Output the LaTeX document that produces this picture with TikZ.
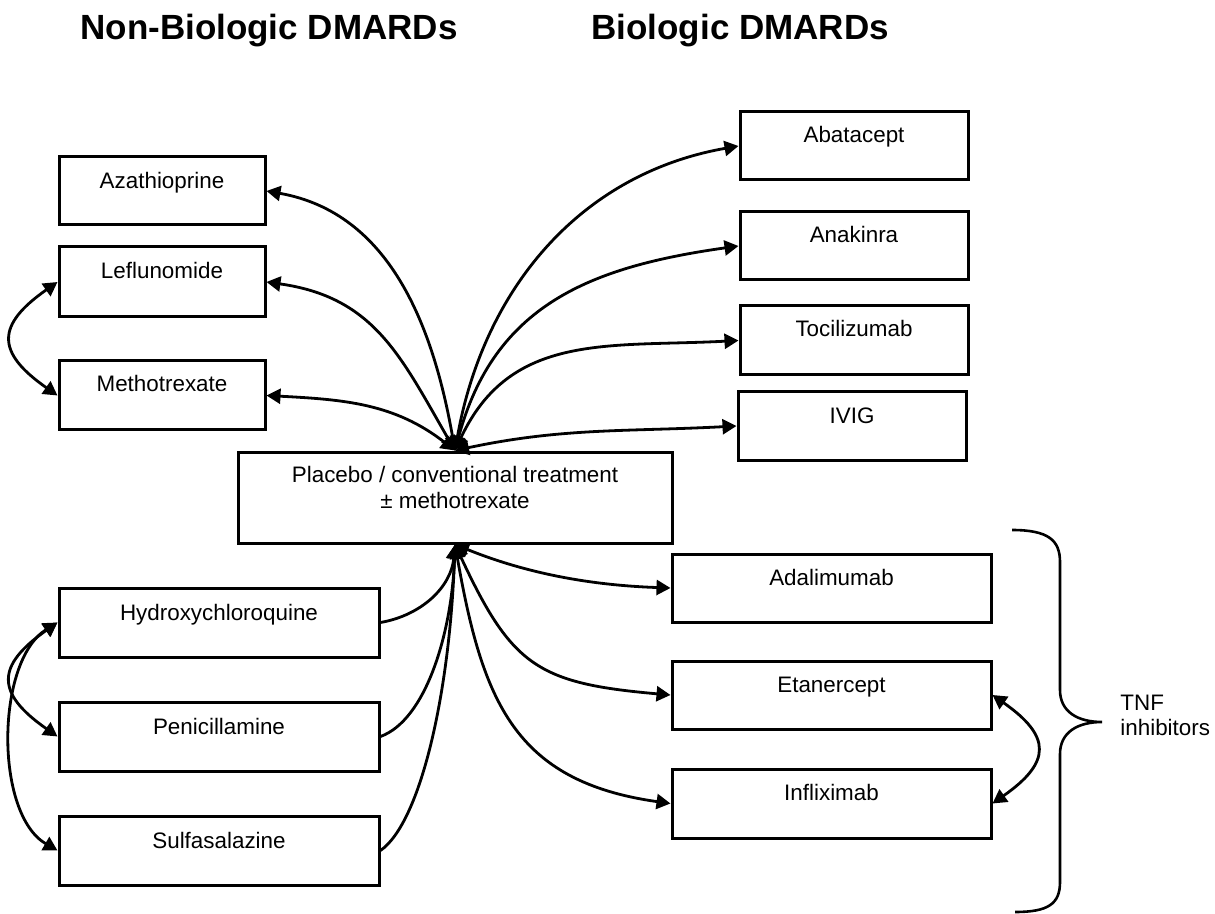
\documentclass[tikz,border=0pt]{standalone}
\usepackage{fontspec}
\setmainfont{Liberation Sans}
\usetikzlibrary{arrows.meta}
\begin{document}
\begin{tikzpicture}[x=0.5pt,y=0.5pt,
  >={Triangle[length=7pt,width=7.5pt]},
  box/.style={draw, line width=1.5pt, inner sep=0pt},
  lbl/.style={anchor=base, inner sep=0pt, font=\fontsize{11.2}{13.5}\selectfont},
  side/.style={anchor=base west, inner sep=0pt, font=\fontsize{11.2}{13.5}\selectfont},
  ttl/.style={anchor=base west, inner sep=0pt, font=\fontsize{17.5}{21}\selectfont\bfseries},
  link/.style={line width=1.4pt}]
\useasboundingbox (0,0) rectangle (1215,-914);

% titles
\node[ttl] (h1) at (80,-40) {Non-Biologic DMARDs};
\node[ttl] (h2) at (591,-40) {Biologic DMARDs};

% left top boxes
\node[box, minimum width=103pt, minimum height=34pt] (aza) at (162,-191) {};
\node[lbl] (aza-t) at ([yshift=-16.75pt]aza.north) {Azathioprine};
\node[box, minimum width=103pt, minimum height=35pt] (lef) at (162,-282) {};
\node[lbl] (lef-t) at ([yshift=-16.75pt]lef.north) {Leflunomide};
\node[box, minimum width=103pt, minimum height=34.5pt] (meth) at (162,-395.5) {};
\node[lbl] (meth-t) at ([yshift=-16.25pt]meth.north) {Methotrexate};

% centre
\node[box, minimum width=217pt, minimum height=45.5pt] (plac) at (455,-497.5) {};
\node[lbl] (plac-t1) at ([yshift=-15.75pt]plac.north) {Placebo / conventional treatment};
\node[lbl] (plac-t2) at ([yshift=-29.25pt]plac.north) {± methotrexate};

% left bottom boxes
\node[box, minimum width=160pt, minimum height=34.5pt] (hyd) at (219,-622.5) {};
\node[lbl] (hyd-t) at ([yshift=-16.75pt]hyd.north) {Hydroxychloroquine};
\node[box, minimum width=160pt, minimum height=34.5pt] (pen) at (219,-736.5) {};
\node[lbl] (pen-t) at ([yshift=-16.75pt]pen.north) {Penicillamine};
\node[box, minimum width=160pt, minimum height=34.5pt] (sul) at (219,-850.5) {};
\node[lbl] (sul-t) at ([yshift=-16.75pt]sul.north) {Sulfasalazine};

% right top boxes
\node[box, minimum width=114pt, minimum height=34pt] (aba) at (854,-146) {};
\node[lbl] (aba-t) at ([yshift=-16.25pt]aba.north) {Abatacept};
\node[box, minimum width=114pt, minimum height=34pt] (ana) at (854,-246) {};
\node[lbl] (ana-t) at ([yshift=-16.25pt]ana.north) {Anakinra};
\node[box, minimum width=114pt, minimum height=34.5pt] (toc) at (854,-340.5) {};
\node[lbl] (toc-t) at ([yshift=-16.25pt]toc.north) {Tocilizumab};
\node[box, minimum width=114pt, minimum height=34pt] (ivig) at (852,-426) {};
\node[lbl] (ivig-t) at ([yshift=-16.25pt]ivig.north) {IVIG};

% right bottom boxes
\node[box, minimum width=159.5pt, minimum height=34pt] (ada) at (831.5,-588) {};
\node[lbl] (ada-t) at ([yshift=-16.25pt]ada.north) {Adalimumab};
\node[box, minimum width=159.5pt, minimum height=34pt] (eta) at (831.5,-695) {};
\node[lbl] (eta-t) at ([yshift=-16.25pt]eta.north) {Etanercept};
\node[box, minimum width=159.5pt, minimum height=34.5pt] (inf) at (831.5,-803.5) {};
\node[lbl] (inf-t) at ([yshift=-16.25pt]inf.north) {Infliximab};

% connectors from the top of the centre box
\draw[link,<->] (plac.north) to[out=100,in=-10] (aza.east);
\draw[link,<->] (plac.north) to[out=120,in=-8,looseness=1.1] (lef.east);
\draw[link,<->] (plac.north) to[out=142,in=-3] (meth.east);
\draw[link,<->] (plac.north) to[out=80,in=190] (aba.west);
\draw[link,<->] (plac.north) to[out=75,in=188,looseness=1.1] (ana.west);
\draw[link,<->] (plac.north) to[out=65,in=183,looseness=1.1] (toc.west);
\draw[link,<->] (plac.north) to[out=12,in=183] (ivig.west);

% connectors from the bottom of the centre box
\draw[link,<->] (plac.south) to[out=-22,in=178,in looseness=0.8] (ada.west);
\draw[link,<->] (plac.south) to[out=-65,in=175,looseness=1.3] (eta.west);
\draw[link,<->] (plac.south) to[out=-80,in=172,looseness=1.2] (inf.west);
\draw[link,->] (hyd.east) to[out=10,in=-95] (plac.south);
\draw[link,->] (pen.east) to[out=20,in=-92,out looseness=0.6,in looseness=1.1] (plac.south);
\draw[link,->] (sul.east) to[out=35,in=-92,out looseness=0.4,in looseness=1.2] (plac.south);

% side arcs
\draw[link,<->] (lef.west) to[out=215,in=145,looseness=1.7] (meth.west);
\draw[link,<->] (hyd.west) to[out=215,in=145,looseness=1.7] (pen.west);
\draw[link,<->] (hyd.west) to[out=212,in=150,looseness=0.82] (sul.west);
\draw[link,<->] (eta.east) to[out=-35,in=35,looseness=1.7] (inf.east);

% brace
\draw[line width=1.3pt] (1012,-530) .. controls (1048,-530) and (1060,-540) .. (1060,-562)
  -- (1060,-690) .. controls (1060,-712) and (1078,-722) .. (1102,-722)
  .. controls (1078,-722) and (1060,-732) .. (1060,-754)
  -- (1060,-882) .. controls (1060,-904) and (1048,-912) .. (1015,-912);
\node[side] (tnf1) at (1120,-710) {TNF};
\node[side] (tnf2) at (1120,-735) {inhibitors};
\end{tikzpicture}
\end{document}
